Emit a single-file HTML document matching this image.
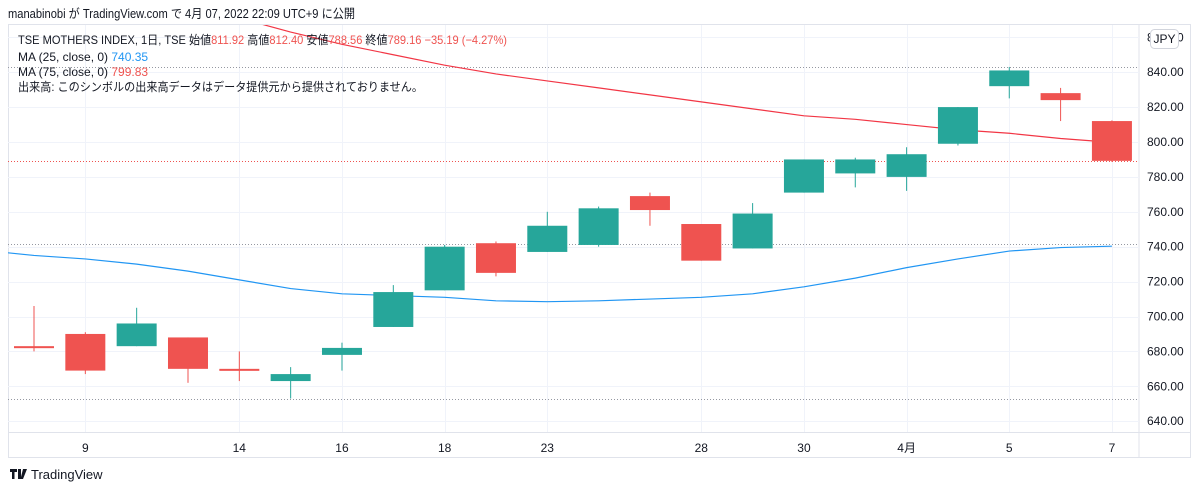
<!DOCTYPE html>
<html><head><meta charset="utf-8"><style>
body{margin:0;background:#fff;width:1200px;height:491px;overflow:hidden;font-family:"Liberation Sans","Noto Sans CJK JP",sans-serif;}
svg text{font-family:"Liberation Sans","Noto Sans CJK JP",sans-serif;}
</style></head><body>
<svg width="1200" height="491" viewBox="0 0 1200 491">
<text x="8" y="18" font-size="12.5" fill="#131722" textLength="347" lengthAdjust="spacingAndGlyphs">manabinobi が TradingView.com で 4月 07, 2022 22:09 UTC+9 に公開</text>
<defs><clipPath id="plot"><rect x="8" y="25" width="1131" height="407"/></clipPath></defs>
<rect x="8.5" y="24.5" width="1182" height="433" fill="none" stroke="#e0e3eb"/>
<line x1="1139" y1="25" x2="1139" y2="458" stroke="#e0e3eb"/>
<line x1="8" y1="432.5" x2="1191" y2="432.5" stroke="#e0e3eb"/>
<g id="grid"></g>
<g id="marks" clip-path="url(#plot)"></g>
<g id="axes"></g>
<g font-size="12">
<text x="18" y="44" fill="#131722" textLength="489" lengthAdjust="spacingAndGlyphs">TSE MOTHERS INDEX, 1日, TSE  始値<tspan fill="#ef5350">811.92</tspan>  高値<tspan fill="#ef5350">812.40</tspan>  安値<tspan fill="#ef5350">788.56</tspan>  終値<tspan fill="#ef5350">789.16  −35.19 (−4.27%)</tspan></text>
<text x="18" y="61" fill="#131722">MA (25, close, 0)  <tspan fill="#2196f3">740.35</tspan></text>
<text x="18" y="76" fill="#131722">MA (75, close, 0)  <tspan fill="#ef5350">799.83</tspan></text>
<text x="18" y="91" fill="#131722" textLength="405" lengthAdjust="spacingAndGlyphs">出来高: このシンボルの出来高データはデータ提供元から提供されておりません。</text>
</g>
<rect x="1150.5" y="29.5" width="28" height="19" rx="4" fill="#fff" stroke="#d1d4dc"/>
<text x="1164.5" y="43" font-size="12" text-anchor="middle" fill="#131722">JPY</text>
<g>
<path d="M10 469h7v3h-2.5v7h-2.5v-7H10zM18 469h3v10h-3zM23 469h4l-4 10h-2.5z" fill="#131722"/>
<text x="31" y="479" font-size="13" fill="#131722">TradingView</text>
</g>
</svg>
<script>
const dates=["","9","","","14","","16","","18","","23","","","28","","30","","4月","","5","","7"];
const opens=[683,690,683,688,670,663,678,694,715,742,737,741,769,753,739,771,782,780,799,832,828,812];
const highs=[706,691,705,688,680,671,685,718,741,743,760,763,771,753,765,790,791,797,820,843,831,812.4];
const lows=[680,667,683,662,663,653,669,694,715,723,737,740,752,732,739,771,774,772,798,825,812,788.6];
const closes=[682,669,696,670,669.5,667,682,714,740,725,752,762,761,732,759,790,790,793,820,841,824,789.2];
const ma25=[735,733,730,726,721,716,713,712,711,709,708.5,709,710,711,713,717,722,728,733,737.5,739.5,740.3];
const ma75=[900,892,885,878,871,863,856,850,844,839,835,831,827,823,819,815,813,810,807,805,802,799.8];
const yTicks=[640,660,680,700,720,740,760,780,800,820,840,860];
const NS="http://www.w3.org/2000/svg";
const X=i=>34+i*51.33;
const Y=v=>142+(800-v)*1.745;
function mk(tag,attrs,parent){const e=document.createElementNS(NS,tag);for(const k in attrs)e.setAttribute(k,attrs[k]);parent.appendChild(e);return e;}
const grid=document.getElementById('grid'),marks=document.getElementById('marks'),axes=document.getElementById('axes');
yTicks.forEach(v=>{
 const y=Math.round(Y(v))+0.5;
 if(y>25&&y<432){const l=mk('line',{x1:8,x2:1139,y1:y,y2:y,stroke:'#f0f3fa'},grid);
 
 }
 const t=mk('text',{x:1147,y:Y(v)+4,'font-size':12,fill:'#131722'},axes);t.textContent=v.toFixed(2);
 
 
});
dates.forEach((d,i)=>{
 if(!d)return;
 const x=Math.round(X(i))+0.5;
 const l=mk('line',{x1:x,x2:x,y1:25,y2:432,stroke:'#f0f3fa'},grid);
 
 
 const t=mk('text',{x:X(i),y:452,'font-size':12,'text-anchor':'middle',fill:'#131722'},axes);t.textContent=d;
 
 
});
[[Math.max(...highs),'#9598a1'],[closes[closes.length-1],'#ef5350'],[ma25[ma25.length-1]+1.5,'#9598a1'],[Math.min(...lows),'#9598a1']].forEach(([v,c])=>{
 const y=Math.round(Y(v))+0.5;
 const l=mk('line',{x1:8,x2:1139,y1:y,y2:y,stroke:c,'stroke-dasharray':'1 2'},grid);
 
 
});
function line(pts,color,name){
 const p=mk('polyline',{points:pts.map(p=>p.join(',')).join(' '),fill:'none',stroke:color,'stroke-width':1.2},marks);
 
 
}
line([[8,Y(736.5)]].concat(ma25.map((v,i)=>[X(i),Y(v)])),'#2196f3','ma25-line');
line(ma75.map((v,i)=>[X(i),Y(v)]),'#f23645','ma75-line');
opens.forEach((o,i)=>{
 const c=closes[i],up=c>=o,col=up?'#26a69a':'#ef5350';
 const x=X(i);
 const w=mk('line',{x1:x,x2:x,y1:Y(highs[i]),y2:Y(lows[i]),stroke:col,'stroke-width':1},marks);
 
 
 const top=Y(Math.max(o,c)),h=Math.max(2,Math.abs(Y(o)-Y(c)));
 const b=mk('rect',{x:x-20,y:top,width:40,height:h,fill:col},marks);
 
 
});
</script>
</body></html>
